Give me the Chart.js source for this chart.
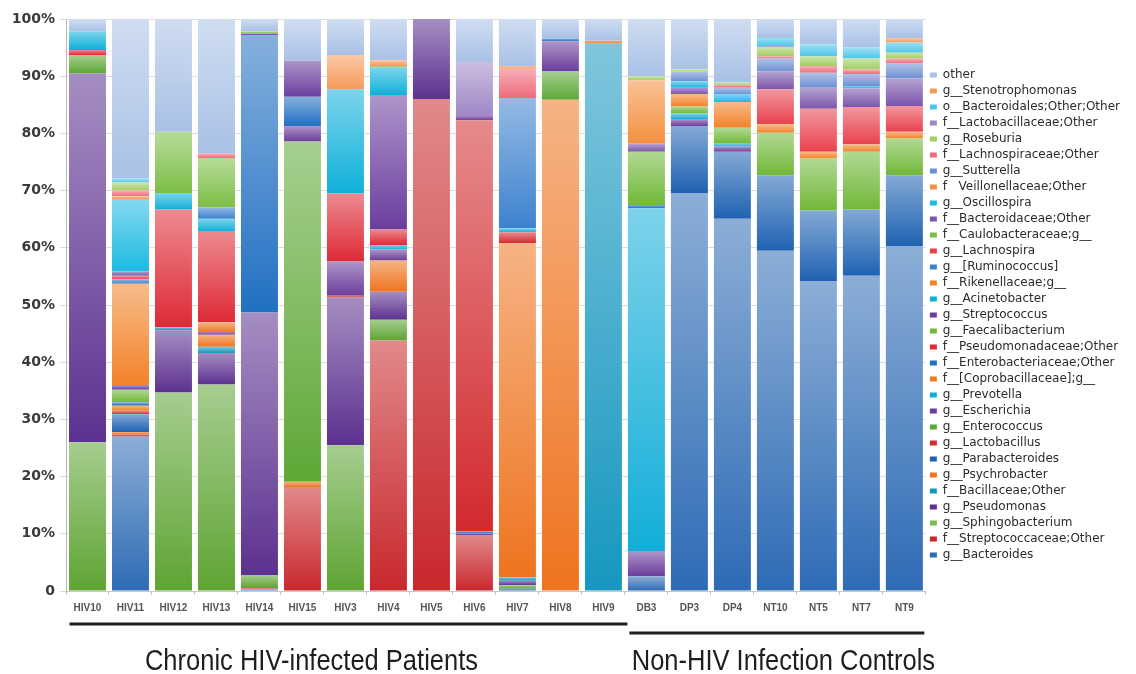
<!DOCTYPE html>
<html>
<head>
<meta charset="utf-8">
<script src="https://cdn.jsdelivr.net/npm/chart.js@4.4.1/dist/chart.umd.min.js"></script>
<style>
  html, body { margin: 0; padding: 0; background: #fff; }
  #wrap { width: 1136px; height: 674px; position: relative; }
</style>
</head>
<body>
<div id="wrap"><canvas id="chart"></canvas></div>
<script>
// samples in the order they appear on the x axis
const samples = ['HIV10', 'HIV11', 'HIV12', 'HIV13', 'HIV14', 'HIV15', 'HIV3', 'HIV4', 'HIV5', 'HIV6',
  'HIV7', 'HIV8', 'HIV9', 'DB3', 'DP3', 'DP4', 'NT10', 'NT5', 'NT7', 'NT9'];

const groupNames = ['Chronic HIV-infected Patients', 'Non-HIV Infection Controls'];
const groupFirst = [0, 13];
const groupLast = [12, 19];

const yTicks = [0, 10, 20, 30, 40, 50, 60, 70, 80, 90, 100];

// relative abundance (%) per taxon, one value per sample, stacked bottom -> top
const bacteroides        = [0, 27.0, 0, 0, 0.3, 0, 0, 0, 0, 0, 0.4, 0, 0, 2.6, 69.6, 65.1, 59.5, 54.2, 55.1, 60.3];
const streptococcaceae   = [0, 0.4, 0, 0, 0.2, 18.2, 0, 43.8, 86.0, 9.8, 0, 0, 0, 0, 0, 0, 0, 0, 0, 0];
const sphingobacterium   = [26.0, 0, 34.7, 36.1, 2.3, 0, 25.5, 3.6, 0, 0, 0.6, 0, 0, 0, 0, 0, 0, 0, 0, 0];
const pseudomonas        = [64.5, 0, 10.9, 5.5, 45.9, 0, 25.8, 4.9, 14.0, 0.3, 0.8, 0, 0, 0, 0, 0, 0, 0, 0, 0];
const bacillaceae        = [0, 0, 0.5, 1.1, 0, 0, 0, 0, 0, 0, 0.6, 0, 95.7, 0, 0, 0, 0, 0, 0, 0];
const psychrobacter      = [0, 0.4, 0, 2.1, 0, 0.9, 0, 5.5, 0, 0, 58.4, 85.9, 0.5, 0, 0, 0, 0, 0, 0, 0];
const parabacteroides    = [0, 3.1, 0, 0, 0, 0, 0, 0, 0, 0.3, 0, 0, 0, 0, 11.7, 11.7, 13.2, 12.3, 11.6, 12.4];
const lactobacillus      = [0, 0.6, 0, 0, 0, 0, 0.3, 0, 0, 71.9, 1.9, 0, 0, 0, 0, 0, 0, 0, 0, 0];
const enterococcus       = [3.2, 0, 0, 0, 0, 59.5, 0, 0, 0, 0, 0, 5.0, 0, 0, 0, 0, 0, 0, 0, 0];
const escherichia        = [0, 0, 0, 0.5, 0, 2.7, 6.0, 1.9, 0, 0.9, 0, 5.2, 0, 4.4, 1.2, 0.9, 0, 0, 0, 0];
const prevotella         = [0, 0, 0, 0, 0, 0, 0, 0.8, 0, 0, 0.7, 0, 0, 59.9, 1.0, 0.5, 0, 0, 0, 0];
const coprobacillaceae   = [0, 0.9, 0, 1.7, 0, 0, 0, 0, 0, 0, 0, 0, 0, 0, 0, 0, 0, 0, 0, 0];
const enterobacteriaceae = [0, 0.6, 0, 0, 48.5, 5.1, 0, 0, 0, 0, 0, 0.5, 0, 0.6, 0, 0, 0, 0, 0, 0];
const pseudomonadaceae   = [0.9, 0, 20.6, 15.8, 0, 0, 11.9, 2.7, 0, 0, 0, 0, 0, 0, 0, 0, 0, 0, 0, 0];
const faecalibacterium   = [0, 2.2, 0, 0, 0, 0, 0, 0, 0, 0, 0, 0, 0, 9.3, 1.2, 2.8, 7.4, 9.1, 10.1, 6.4];
const streptococcus      = [0, 0.8, 0, 0, 0.3, 6.3, 0, 23.5, 0, 0, 0, 0, 0, 0, 0, 0, 0, 0, 0, 0];
const acinetobacter      = [3.2, 0, 2.9, 2.3, 0, 0, 18.2, 4.8, 0, 0, 0, 0, 0, 0, 0, 0, 0, 0, 0, 0];
const rikenellaceae      = [0, 17.7, 0, 0, 0, 0, 0, 0, 0, 0, 0, 0, 0, 0, 2.2, 4.5, 1.5, 1.2, 1.3, 1.2];
const ruminococcus       = [0, 0.8, 0, 2.0, 0, 0, 0, 0, 0, 0, 22.8, 0, 0, 0, 0, 0, 0, 0, 0, 0];
const lachnospira        = [0, 0.6, 0, 0, 0, 0, 0, 0, 0, 0, 0, 0, 0, 0, 0, 0, 6.1, 7.5, 6.5, 4.5];
const caulobacteraceae   = [0, 0, 10.7, 8.6, 0.3, 0, 0, 0.3, 0, 0, 0, 0, 0, 0, 0, 0, 0, 0, 0, 0];
const bacteroidaceae     = [0, 0.8, 0, 0, 0, 0, 0, 0, 0, 0, 0, 0, 0, 1.4, 1.2, 0, 3.1, 3.7, 3.3, 4.8];
const oscillospira       = [0, 12.5, 0, 0, 0, 0, 0, 0, 0, 0, 0, 0, 0, 0, 1.0, 1.4, 0, 0, 0.4, 0];
const veillonellaceae    = [0, 0.6, 0, 0, 0, 0, 0, 0, 0, 0, 0, 0, 0, 11.1, 0, 0, 0, 0, 0, 0];
const sutterella         = [0, 0, 0, 0, 0, 0, 0, 0, 0, 0, 0, 0, 0, 0, 1.7, 1.1, 2.3, 2.6, 2.1, 2.6];
const lachnospiraceae    = [0, 1.0, 0, 0.8, 0, 0, 0, 0, 0, 0, 5.1, 0, 0, 0, 0, 0.5, 0.4, 1.2, 0.8, 0.9];
const roseburia          = [0, 1.4, 0, 0, 0, 0, 0, 0, 0, 0, 0, 0, 0, 0.7, 0.4, 0.4, 1.5, 1.7, 1.9, 1.0];
const lactobacillaceae   = [0, 0, 0, 0, 0, 0, 0, 0, 0, 9.3, 0, 0, 0, 0, 0, 0, 0.3, 0, 0, 0];
const bacteroidales      = [0, 0.7, 0, 0, 0, 0, 0, 0, 0, 0, 0, 0, 0, 0, 0, 0, 1.4, 2.1, 1.9, 1.8];
const stenotrophomonas   = [0, 0, 0, 0, 0, 0, 6.0, 1.0, 0, 0, 0.5, 0, 0, 0, 0, 0, 0, 0, 0, 0.8];
const other              = [2.2, 27.9, 19.7, 23.5, 2.2, 7.3, 6.3, 7.2, 0, 7.5, 8.2, 3.4, 3.8, 10.0, 8.8, 11.1, 3.3, 4.4, 5.0, 3.3];

const taxonNames = ['g__Bacteroides', 'f__Streptococcaceae;Other', 'g__Sphingobacterium', 'g__Pseudomonas',
  'f__Bacillaceae;Other', 'g__Psychrobacter', 'g__Parabacteroides', 'g__Lactobacillus', 'g__Enterococcus',
  'g__Escherichia', 'g__Prevotella', 'f__[Coprobacillaceae];g__', 'f__Enterobacteriaceae;Other',
  'f__Pseudomonadaceae;Other', 'g__Faecalibacterium', 'g__Streptococcus', 'g__Acinetobacter',
  'f__Rikenellaceae;g__', 'g__[Ruminococcus]', 'g__Lachnospira', 'f__Caulobacteraceae;g__',
  'f__Bacteroidaceae;Other', 'g__Oscillospira', 'f   Veillonellaceae;Other', 'g__Sutterella',
  'f__Lachnospiraceae;Other', 'g__Roseburia', 'f__Lactobacillaceae;Other', 'o__Bacteroidales;Other;Other',
  'g__Stenotrophomonas', 'other'];

const taxonValues = [bacteroides, streptococcaceae, sphingobacterium, pseudomonas, bacillaceae, psychrobacter,
  parabacteroides, lactobacillus, enterococcus, escherichia, prevotella, coprobacillaceae, enterobacteriaceae,
  pseudomonadaceae, faecalibacterium, streptococcus, acinetobacter, rikenellaceae, ruminococcus, lachnospira,
  caulobacteraceae, bacteroidaceae, oscillospira, veillonellaceae, sutterella, lachnospiraceae, roseburia,
  lactobacillaceae, bacteroidales, stenotrophomonas, other];

// base (bottom of gradient) colour for each taxon
const baseColors = ['#2E6BB5', '#C8282C', '#5EA433', '#5C3190', '#1797C0', '#EE7420', '#1F62B2', '#D22A2E',
  '#5EA836', '#6B3E9C', '#13AED8', '#F07A22', '#2170C2', '#DE2A36', '#72B83A', '#6A3E9E', '#10B0DA',
  '#F2832A', '#3D82CE', '#E8424E', '#7CBE46', '#7A56AC', '#1EBAE2', '#F49040', '#6F91D4', '#EE6C7C',
  '#A2CE64', '#A088C6', '#4FC6E8', '#F59B5C', '#A9C1E6'];

const lighten = (hex, t) => {
    const n = parseInt(hex.slice(1), 16);
    const r = n >> 16, g = (n >> 8) & 255, b = n & 255;
    const m = c => Math.round(c + (255 - c) * t);
    return `rgb(${m(r)}, ${m(g)}, ${m(b)})`;
};

// each segment fades from a light tint at its top to the base colour at its bottom
const segmentFill = (context, i) => {
    const chart = context.chart;
    const y = chart.scales.y;
    if (context.type !== 'data' || !y || !chart.chartArea) return baseColors[i];
    const j = context.dataIndex;
    let lo = 0;
    for (let k = 0; k < i; k++) lo += taxonValues[k][j];
    const hi = lo + taxonValues[i][j];
    const yTop = y.getPixelForValue(hi);
    const yBot = y.getPixelForValue(lo);
    if (!(yBot - yTop > 0.5)) return baseColors[i];
    const grad = chart.ctx.createLinearGradient(0, yTop, 0, yBot);
    grad.addColorStop(0, lighten(baseColors[i], 0.45));
    grad.addColorStop(1, baseColors[i]);
    return grad;
};

const datasets = taxonValues.map((vals, i) => ({
    label: taxonNames[i],
    data: vals,
    backgroundColor: ctx => segmentFill(ctx, i),
    borderWidth: 0,
    barPercentage: 0.86,
    categoryPercentage: 1.0
}));

const groupBars = {
    id: 'groupBars',
    afterDraw(chart) {
        const x = chart.scales.x;
        const c = chart.ctx;
        const bottom = chart.chartArea.bottom;
        const p = i => x.getPixelForValue(i);
        const lineY = [bottom + 33, bottom + 42];
        const from = [p(groupFirst[0]) - 18, p(groupFirst[1]) - 17];
        const to = [p(groupLast[0]) + 24, p(groupLast[1]) + 20];
        const textX = [p(5) + 9, p(16) + 8];
        c.save();
        c.strokeStyle = '#1e1e1e';
        c.lineWidth = 3;
        c.fillStyle = '#1e1e1e';
        c.font = '30px "Liberation Sans", Arial, sans-serif';
        c.textAlign = 'center';
        c.textBaseline = 'middle';
        groupNames.forEach((name, g) => {
            c.beginPath();
            c.moveTo(from[g], lineY[g]);
            c.lineTo(to[g], lineY[g]);
            c.stroke();
            // condensed lettering, like the narrow face in the original
            c.save();
            c.translate(textX[g], bottom + 71);
            c.scale(0.85, 1);
            c.fillText(name, 0, 0);
            c.restore();
        });
        c.restore();
    }
};

new Chart(document.getElementById('chart'), {
    type: 'bar',
    data: { labels: samples, datasets },
    plugins: [groupBars],
    options: {
        responsive: true,
        maintainAspectRatio: false,
        animation: false,
        layout: { padding: { top: 19, right: 6, bottom: 0, left: 0 } },
        plugins: {
            tooltip: { enabled: false },
            legend: {
                position: 'right',
                align: 'start',
                reverse: true,
                title: { display: true, text: ' ', padding: 17, font: { size: 10 } },
                labels: {
                    boxWidth: 7,
                    boxHeight: 5,
                    padding: 4,
                    color: '#2b2b2b',
                    font: { family: '"DejaVu Sans", sans-serif', size: 12 }
                }
            }
        },
        scales: {
            x: {
                stacked: true,
                grid: { display: true, drawOnChartArea: false, tickLength: 4, color: '#c8c8c8' },
                border: { color: '#c8c8c8' },
                ticks: {
                    color: '#555',
                    padding: 7,
                    maxRotation: 0,
                    autoSkip: false,
                    font: { family: '"Liberation Sans", sans-serif', size: 10, weight: 'bold' }
                },
                afterFit: s => { s.height = 83; }
            },
            y: {
                stacked: true,
                min: 0,
                max: 100,
                afterFit: s => { s.width = 66; },
                afterBuildTicks: s => { s.ticks = yTicks.map(v => ({ value: v })); },
                grid: { color: '#dcdcdc', tickLength: 6 },
                border: { color: '#b8b8b8' },
                ticks: {
                    color: '#3a3a3a',
                    padding: 5,
                    font: { family: '"DejaVu Sans", sans-serif', size: 14, weight: 'bold' },
                    callback: v => v === 0 ? '0' : v + '%'
                }
            }
        }
    }
});
</script>
</body>
</html>
